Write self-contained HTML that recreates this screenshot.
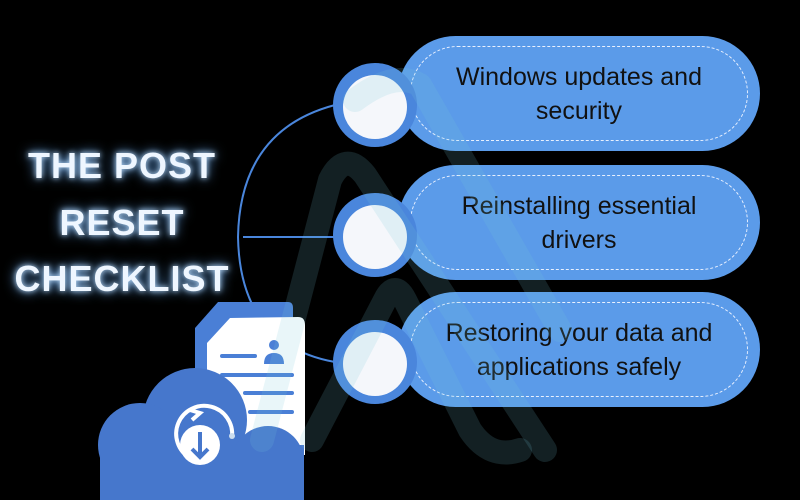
<!DOCTYPE html>
<html><head><style>
body{margin:0;width:800px;height:500px;background:#000;overflow:hidden;position:relative;font-family:"Liberation Sans",sans-serif}
.t{position:absolute;left:2px;width:240px;text-align:center;color:#eef6ff;font-weight:bold;font-size:36px;letter-spacing:1px;text-shadow:0 0 6px #bfe0ff,0 0 12px #6ab0ff}
.pill{position:absolute;left:398px;width:362px;height:115px;border-radius:58px;background:#5b9be9}
.pill .in{position:absolute;left:12px;top:10px;right:12px;bottom:10px;border:1.5px dashed #e8f0ff;border-radius:48px}
.pill .tx{position:absolute;left:10px;right:10px;top:0;bottom:0;display:flex;align-items:center;justify-content:center;text-align:center;font-size:25px;line-height:34px;color:#111}
.c{position:absolute;width:84px;height:84px;border-radius:50%;background:#4a86dc}
.c div{position:absolute;left:10px;top:12px;width:64px;height:64px;border-radius:50%;background:#f5f7fb}
</style></head><body>
<svg width="800" height="500" style="position:absolute;left:0;top:0">
<path d="M335 105 Q240 130 238 237 Q240 345 335 362" fill="none" stroke="#4a86dc" stroke-width="2"/>
<line x1="243" y1="237" x2="335" y2="237" stroke="#4a86dc" stroke-width="2"/>
</svg>
<div class="t" style="top:145px">THE POST</div>
<div class="t" style="top:202px">RESET</div>
<div class="t" style="top:258px">CHECKLIST</div>

<div class="pill" style="top:36px"><div class="in"></div><div class="tx">Windows updates and<br>security</div></div>
<div class="pill" style="top:165px"><div class="in"></div><div class="tx">Reinstalling essential<br>drivers</div></div>
<div class="pill" style="top:292px"><div class="in"></div><div class="tx">Restoring your data and<br>applications safely</div></div>
<div class="c" style="left:333px;top:63px"><div></div></div>
<div class="c" style="left:333px;top:193px"><div></div></div>
<div class="c" style="left:333px;top:320px"><div></div></div>

<svg width="800" height="500" style="position:absolute;left:0;top:0">
<!-- document -->
<path d="M218 302 L288 302 Q293 302 293 308 L293 440 L195 440 L195 328 Z" fill="#4a7fd6"/>
<path d="M230 318 L298 317 Q305 317 305 325 L305 455 L207 455 L207 343 Z" fill="#fff"/>
<line x1="222" y1="356" x2="255" y2="356" stroke="#4a7fd6" stroke-width="4" stroke-linecap="round"/>
<circle cx="274" cy="345" r="5" fill="#4a7fd6"/>
<path d="M264 364 Q264 353 274 353 Q284 353 284 364 Z" fill="#4a7fd6"/>
<line x1="222" y1="375" x2="292" y2="375" stroke="#4a7fd6" stroke-width="4" stroke-linecap="round"/>
<line x1="245" y1="393" x2="292" y2="393" stroke="#4a7fd6" stroke-width="4" stroke-linecap="round"/>
<line x1="250" y1="412" x2="292" y2="412" stroke="#4a7fd6" stroke-width="4" stroke-linecap="round"/>
<!-- cloud -->
<g fill="#4677cc">
<circle cx="195" cy="420" r="52"/>
<circle cx="140" cy="445" r="42"/>
<circle cx="268" cy="462" r="36"/>
<rect x="100" y="445" width="204" height="55"/>
</g>
<path d="M190 458 A28 28 0 1 1 232 437" fill="none" stroke="#fff" stroke-width="4"/>
<path d="M190 410 L200 413 L192 420" fill="none" stroke="#fff" stroke-width="4"/>
<circle cx="200" cy="445" r="20" fill="#fff"/>
<line x1="200" y1="432" x2="200" y2="456" stroke="#4677cc" stroke-width="4"/>
<path d="M192 449 L200 457 L208 449" fill="none" stroke="#4677cc" stroke-width="4"/>
<circle cx="232" cy="436" r="3" fill="#cde"/>
<!-- watermark -->
<g fill="none" stroke="rgba(120,200,220,0.16)" stroke-width="24" stroke-linejoin="round" stroke-linecap="round">
<path d="M262 440 L330 180 Q345 150 365 175 L545 450"/>
<path d="M312 440 L385 300 Q395 280 405 300 L470 430 Q490 460 520 450"/>
<path d="M355 100 Q395 70 420 85 L560 330"/>
</g>
</svg>
</body></html>
